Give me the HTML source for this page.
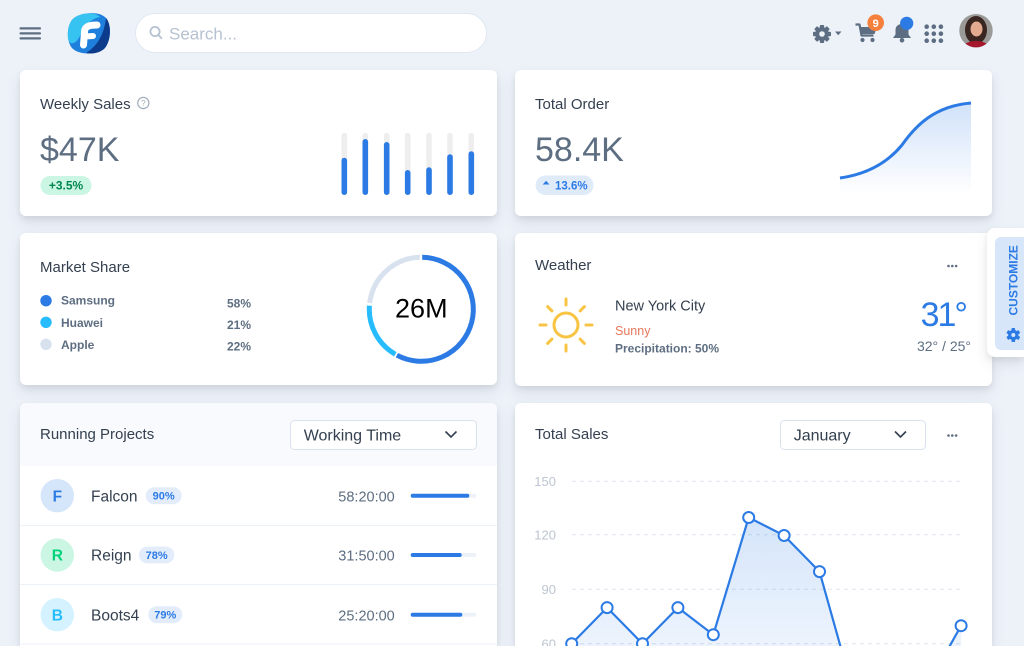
<!DOCTYPE html>
<html><head><meta charset="utf-8">
<style>
html,body{margin:0;padding:0;width:1024px;height:646px;overflow:hidden;}
body{background:#edf2f9;position:relative;font-family:"Liberation Sans",sans-serif;}
.card{position:absolute;background:#fff;border-radius:6px;box-shadow:0 7px 14px 0 rgba(65,69,88,.1),0 3px 6px 0 rgba(0,0,0,.07);overflow:hidden;}
.hdr{position:absolute;left:0;top:0;width:100%;height:63px;background:#f9fafd;}
svg.ov{position:absolute;left:0;top:0;}
</style></head>
<body>
<div class="card" style="left:20px;top:70px;width:477px;height:146px;"></div>
<div class="card" style="left:515px;top:70px;width:477px;height:146px;"></div>
<div class="card" style="left:20px;top:233px;width:477px;height:152px;"></div>
<div class="card" style="left:515px;top:233px;width:477px;height:153px;"></div>
<div class="card" style="left:20px;top:403px;width:477px;height:243px;border-radius:6px 6px 0 0;"><div class="hdr"></div></div>
<div class="card" style="left:515px;top:403px;width:477px;height:243px;border-radius:6px 6px 0 0;"></div>
<div class="card" style="left:987px;top:228px;width:37px;height:129px;border-radius:8px 0 0 8px;"></div>
<div style="position:absolute;left:995px;top:237px;width:29px;height:113px;background:#d8e6f9;border-radius:6px 0 0 6px;"></div>

<svg class="ov" width="1024" height="646" viewBox="0 0 1024 646" font-family="Liberation Sans, sans-serif">
<defs>
<linearGradient id="g1" x1="0" y1="0" x2="0" y2="1">
<stop offset="0" stop-color="#2c7be5" stop-opacity="0.22"/>
<stop offset="1" stop-color="#2c7be5" stop-opacity="0"/>
</linearGradient>
<linearGradient id="g2" gradientUnits="userSpaceOnUse" x1="0" y1="517" x2="0" y2="700">
<stop offset="0" stop-color="#2c7be5" stop-opacity="0.2"/>
<stop offset="1" stop-color="#2c7be5" stop-opacity="0.04"/>
</linearGradient>
<clipPath id="av"><circle cx="976" cy="30.7" r="16.7"/></clipPath>
<clipPath id="chartclip"><rect x="515" y="403" width="477" height="243"/></clipPath>
</defs>

<!-- NAV -->
<g fill="#5e6e82">
<rect x="19.5" y="27.2" width="21.5" height="2.3" rx="1"/>
<rect x="19.5" y="32.2" width="21.5" height="2.3" rx="1"/>
<rect x="19.5" y="37.2" width="21.5" height="2.3" rx="1"/>
</g>
<g transform="translate(66,12)">
<path d="M8 6 C16 0 34 -1 40 6 C46 13 45 30 38 37 C30 43 14 43 7 37 C0 31 0 12 8 6Z" fill="#1e7fdc"/>
<path d="M8 6 C16 0 30 0 34 5 C26 6 18 14 14 24 C10 32 4 34 2 27 C1 18 3 10 8 6Z" fill="#36c3f1"/>
<path d="M40 6 C46 13 45 30 38 37 C32 42 24 42 20 41 C30 35 38 24 40 6Z" fill="#0c3b8c"/>
<path d="M17.5 33 L18.5 20 C18.5 15 22 13 31 13" stroke="#fff" stroke-width="7" fill="none" stroke-linecap="round"/>
<path d="M18.5 24.5 L27 24" stroke="#fff" stroke-width="6" stroke-linecap="round"/>
</g>
<rect x="135.5" y="13.5" width="351" height="39" rx="19.5" fill="#fff" stroke="#e1e8f1"/>
<circle cx="155" cy="31.5" r="4.6" fill="none" stroke="#b6c1d2" stroke-width="1.8"/>
<line x1="158.4" y1="35" x2="161.5" y2="38.2" stroke="#b6c1d2" stroke-width="1.8" stroke-linecap="round"/>
<text x="169" y="39.3" font-size="17" fill="#b6c1d2">Search...</text>

<!-- gear -->
<g transform="translate(822,34)" fill="#5e6e82">
<rect x="-2.2" y="-9" width="4.4" height="18" rx="1"/>
<rect x="-2.2" y="-9" width="4.4" height="18" rx="1" transform="rotate(45)"/>
<rect x="-2.2" y="-9" width="4.4" height="18" rx="1" transform="rotate(90)"/>
<rect x="-2.2" y="-9" width="4.4" height="18" rx="1" transform="rotate(135)"/>
<circle r="6.8"/>
<circle r="2.8" fill="#edf2f9"/>
</g>
<polygon points="835,31.5 841.5,31.5 838.2,35.2" fill="#5e6e82"/>
<!-- cart -->
<g fill="#5e6e82">
<path d="M855.5 24.5 L859.5 24.5 L861.5 35.5 L873.5 35.5" stroke="#5e6e82" stroke-width="2.2" fill="none" stroke-linejoin="round"/>
<polygon points="859.5,27 877,27 874.5,34 861,34"/>
<circle cx="862.5" cy="40" r="2.1"/>
<circle cx="872.5" cy="40" r="2.1"/>
</g>
<circle cx="875.7" cy="22.7" r="8.3" fill="#f5803e"/>
<text x="875.7" y="26.8" font-size="11" font-weight="bold" fill="#fff" text-anchor="middle">9</text>
<!-- bell -->
<g fill="#5e6e82">
<path d="M893 38 L911 38 L908.5 34.5 L908.5 30 C908.5 26 905.5 24 902 24 C898.5 24 895.5 26 895.5 30 L895.5 34.5 Z"/>
<circle cx="902" cy="40.3" r="2.3"/>
</g>
<circle cx="906.7" cy="23.3" r="6.6" fill="#2c7be5"/>
<!-- grid -->
<g fill="#5e6e82">
<circle cx="926.7" cy="26.7" r="2.3"/><circle cx="933.8" cy="26.7" r="2.3"/><circle cx="940.9" cy="26.7" r="2.3"/>
<circle cx="926.7" cy="33.7" r="2.3"/><circle cx="933.8" cy="33.7" r="2.3"/><circle cx="940.9" cy="33.7" r="2.3"/>
<circle cx="926.7" cy="40.7" r="2.3"/><circle cx="933.8" cy="40.7" r="2.3"/><circle cx="940.9" cy="40.7" r="2.3"/>
</g>
<!-- avatar -->
<g clip-path="url(#av)">
<rect x="958" y="13" width="36" height="36" fill="#9a9a98"/>
<ellipse cx="976" cy="30" rx="11" ry="14" fill="#3a2621"/>
<ellipse cx="976.5" cy="29" rx="6" ry="7.5" fill="#e2ab90"/>
<ellipse cx="976" cy="50" rx="15" ry="9" fill="#a5172c"/>
</g>

<!-- WEEKLY SALES -->
<text x="40" y="109" font-size="15" fill="#344050">Weekly Sales</text>
<circle cx="143.3" cy="103" r="5.6" fill="none" stroke="#a3aebd" stroke-width="1.2"/>
<text x="143.3" y="106" font-size="8" fill="#a3aebd" text-anchor="middle">?</text>
<text x="40" y="161" font-size="34" fill="#5e6e82">$47K</text>
<rect x="40.5" y="176" width="51" height="19" rx="9.5" fill="#ccf6e4"/>
<text x="66" y="189.6" font-size="12" font-weight="bold" fill="#00864e" text-anchor="middle">+3.5%</text>
<g>
<rect x="341.5" y="132.7" width="5.6" height="62.3" rx="2.8" fill="#eeeeee"/>
<rect x="362.5" y="132.7" width="5.6" height="62.3" rx="2.8" fill="#eeeeee"/>
<rect x="383.9" y="132.7" width="5.6" height="62.3" rx="2.8" fill="#eeeeee"/>
<rect x="404.9" y="132.7" width="5.6" height="62.3" rx="2.8" fill="#eeeeee"/>
<rect x="426.2" y="132.7" width="5.6" height="62.3" rx="2.8" fill="#eeeeee"/>
<rect x="447.2" y="132.7" width="5.6" height="62.3" rx="2.8" fill="#eeeeee"/>
<rect x="468.5" y="132.7" width="5.6" height="62.3" rx="2.8" fill="#eeeeee"/>
</g>
<g fill="#2c7be5">
<rect x="341.5" y="157.7" width="5.6" height="37.3" rx="2.8"/>
<rect x="362.5" y="139" width="5.6" height="56" rx="2.8"/>
<rect x="383.9" y="142" width="5.6" height="53" rx="2.8"/>
<rect x="404.9" y="170" width="5.6" height="25" rx="2.8"/>
<rect x="426.2" y="167.3" width="5.6" height="27.7" rx="2.8"/>
<rect x="447.2" y="154.3" width="5.6" height="40.7" rx="2.8"/>
<rect x="468.5" y="151.3" width="5.6" height="43.7" rx="2.8"/>
</g>

<!-- TOTAL ORDER -->
<text x="535" y="109" font-size="15" fill="#344050">Total Order</text>
<text x="535" y="161" font-size="34" fill="#5e6e82">58.4K</text>
<rect x="535.5" y="175.5" width="58" height="19.5" rx="9.75" fill="#e0ebfa"/>
<polygon points="542.7,184.5 549.5,184.5 546.1,180.8" fill="#2c7be5"/>
<text x="555" y="189.5" font-size="11.5" font-weight="bold" fill="#2c7be5">13.6%</text>
<path d="M840 178 C868 174 888 162 902 145 C916 125 935 106 971 103 L971 195 L840 195 Z" fill="url(#g1)"/>
<path d="M840 178 C868 174 888 162 902 145 C916 125 935 106 971 103" fill="none" stroke="#2c7be5" stroke-width="3"/>

<!-- MARKET SHARE -->
<text x="40" y="272" font-size="15" fill="#344050">Market Share</text>
<circle cx="46" cy="300.7" r="5.7" fill="#2c7be5"/>
<circle cx="46" cy="322.3" r="5.7" fill="#27bcfd"/>
<circle cx="46" cy="344.3" r="5.7" fill="#d8e2ef"/>
<g font-size="12" font-weight="bold" fill="#5e6e82">
<text x="61" y="304.7">Samsung</text>
<text x="61" y="327">Huawei</text>
<text x="61" y="349">Apple</text>
<text x="227" y="307.3">58%</text>
<text x="227" y="329">21%</text>
<text x="227" y="350.3">22%</text>
</g>
<g fill="none" stroke-width="5">
<path d="M422.2 257.3 A52 52 0 1 1 396.9 355.2" stroke="#2c7be5"/>
<path d="M395.3 354.3 A52 52 0 0 1 369.4 305.7" stroke="#27bcfd"/>
<path d="M369.7 303 A52 52 0 0 1 419.9 257.3" stroke="#d8e2ef"/>
</g>
<text x="421.3" y="317.3" font-size="27" fill="#000" text-anchor="middle">26M</text>

<!-- WEATHER -->
<text x="535" y="270" font-size="15" fill="#344050">Weather</text>
<g fill="#5e6e82"><circle cx="948.5" cy="266" r="1.3"/><circle cx="952.3" cy="266" r="1.3"/><circle cx="956.1" cy="266" r="1.3"/></g>
<g stroke="#f7c444" stroke-width="3" stroke-linecap="round" fill="none">
<circle cx="566" cy="325" r="12"/>
<line x1="566" y1="305" x2="566" y2="299"/>
<line x1="566" y1="345" x2="566" y2="351"/>
<line x1="546" y1="325" x2="540" y2="325"/>
<line x1="586" y1="325" x2="592" y2="325"/>
<line x1="580.1" y1="310.9" x2="584.4" y2="306.6"/>
<line x1="551.9" y1="310.9" x2="547.6" y2="306.6"/>
<line x1="580.1" y1="339.1" x2="584.4" y2="343.4"/>
<line x1="551.9" y1="339.1" x2="547.6" y2="343.4"/>
</g>
<text x="615" y="310.7" font-size="14.5" fill="#344050">New York City</text>
<text x="615" y="335" font-size="12.5" fill="#e6795a">Sunny</text>
<text x="615" y="352.7" font-size="12" font-weight="bold" fill="#5e6e82">Precipitation: 50%</text>
<text x="966" y="326" font-size="34" fill="#2c7be5" text-anchor="end" letter-spacing="-2">31°</text>
<text x="971" y="351" font-size="14" fill="#5e6e82" text-anchor="end">32° / 25°</text>

<!-- CUSTOMIZE -->
<text transform="translate(1017.6,280.3) rotate(-90)" font-size="12" font-weight="bold" fill="#2c7be5" text-anchor="middle">CUSTOMIZE</text>
<g transform="translate(1013.3,335)" fill="#2c7be5">
<rect x="-1.8" y="-7" width="3.6" height="14" rx="0.8"/>
<rect x="-1.8" y="-7" width="3.6" height="14" rx="0.8" transform="rotate(60)"/>
<rect x="-1.8" y="-7" width="3.6" height="14" rx="0.8" transform="rotate(120)"/>
<circle r="5.2"/>
<circle r="2" fill="#d8e6f9"/>
</g>

<!-- RUNNING PROJECTS -->
<text x="40" y="439" font-size="15" fill="#344050">Running Projects</text>
<rect x="290.5" y="420.5" width="186" height="29" rx="4" fill="#fff" stroke="#d8e2ef"/>
<text x="303.7" y="440.3" font-size="16" fill="#344050">Working Time</text>
<polyline points="445.5,431.5 451,437 456.5,431.5" fill="none" stroke="#344050" stroke-width="1.6"/>
<g stroke="#edf2f9" stroke-width="1">
<line x1="20" y1="525.5" x2="497" y2="525.5"/>
<line x1="20" y1="584.5" x2="497" y2="584.5"/>
<line x1="20" y1="644" x2="497" y2="644"/>
</g>
<circle cx="57.3" cy="495.7" r="16.7" fill="#d5e5fa"/>
<circle cx="57.3" cy="555" r="16.7" fill="#ccf6e4"/>
<circle cx="57.3" cy="614.7" r="16.7" fill="#d4f2ff"/>
<g font-size="15.5" font-weight="bold" text-anchor="middle">
<text x="57.3" y="501.3" fill="#2c7be5">F</text>
<text x="57.3" y="560.6" fill="#00d27a">R</text>
<text x="57.3" y="620.3" fill="#27bcfd">B</text>
</g>
<g font-size="15.5" fill="#344050">
<text x="91" y="501.3">Falcon</text>
<text x="91" y="560.6">Reign</text>
<text x="91" y="620.3">Boots4</text>
</g>
<rect x="145.7" y="487.3" width="36" height="16.8" rx="8.4" fill="#e3ecfb"/>
<rect x="139" y="546.6" width="35.3" height="16.8" rx="8.4" fill="#e3ecfb"/>
<rect x="148.3" y="606.3" width="34" height="16.8" rx="8.4" fill="#e3ecfb"/>
<g font-size="11" font-weight="bold" fill="#2c7be5" text-anchor="middle">
<text x="163.7" y="499.7">90%</text>
<text x="156.7" y="559">78%</text>
<text x="165.3" y="618.7">79%</text>
</g>
<g font-size="14.5" fill="#5e6e82">
<text x="338.3" y="501.3">58:20:00</text>
<text x="338.3" y="560.6">31:50:00</text>
<text x="338.3" y="620.3">25:20:00</text>
</g>
<rect x="410.7" y="493.7" width="65.6" height="4" rx="2" fill="#edf2f9"/>
<rect x="410.7" y="493.7" width="58.6" height="4" rx="2" fill="#2c7be5"/>
<rect x="410.7" y="553" width="65.6" height="4" rx="2" fill="#edf2f9"/>
<rect x="410.7" y="553" width="51" height="4" rx="2" fill="#2c7be5"/>
<rect x="410.7" y="612.7" width="65.6" height="4" rx="2" fill="#edf2f9"/>
<rect x="410.7" y="612.7" width="51.6" height="4" rx="2" fill="#2c7be5"/>

<!-- TOTAL SALES -->
<text x="535" y="439" font-size="15" fill="#344050">Total Sales</text>
<rect x="780.5" y="420.5" width="145" height="29" rx="4" fill="#fff" stroke="#d8e2ef"/>
<text x="793.7" y="440.3" font-size="16" fill="#344050">January</text>
<polyline points="895,431.5 900.5,437 906,431.5" fill="none" stroke="#344050" stroke-width="1.6"/>
<g fill="#5e6e82"><circle cx="948.5" cy="435.5" r="1.3"/><circle cx="952.3" cy="435.5" r="1.3"/><circle cx="956.1" cy="435.5" r="1.3"/></g>
<g font-size="13" fill="#bcc5d1" text-anchor="end">
<text x="556" y="486">150</text>
<text x="556" y="539.3">120</text>
<text x="556" y="594">90</text>
<text x="556" y="648.3">60</text>
</g>
<g stroke="#dde4ee" stroke-width="1" stroke-dasharray="4 4">
<line x1="572" y1="481.3" x2="960" y2="481.3"/>
<line x1="572" y1="534.7" x2="960" y2="534.7"/>
<line x1="572" y1="589.3" x2="960" y2="589.3"/>
<line x1="572" y1="643.7" x2="960" y2="643.7"/>
</g>
<g clip-path="url(#chartclip)">
<path d="M571.7 643.7 L607.1 607.6 L642.5 643.7 L677.9 607.6 L713.3 634.7 L748.7 517.5 L784.1 535.5 L819.5 571.6 L854.9 697.8 L890.3 720 L925.7 688.8 L961.1 625.7 L961.1 760 L571.7 760 Z" fill="url(#g2)"/>
<polyline points="571.7,643.7 607.1,607.6 642.5,643.7 677.9,607.6 713.3,634.7 748.7,517.5 784.1,535.5 819.5,571.6 854.9,697.8 890.3,720 925.7,688.8 961.1,625.7" fill="none" stroke="#2c7be5" stroke-width="2.2" stroke-linejoin="round"/>
<g fill="#fff" stroke="#2c7be5" stroke-width="2">
<circle cx="571.7" cy="643.7" r="5.5"/>
<circle cx="607.1" cy="607.6" r="5.5"/>
<circle cx="642.5" cy="643.7" r="5.5"/>
<circle cx="677.9" cy="607.6" r="5.5"/>
<circle cx="713.3" cy="634.7" r="5.5"/>
<circle cx="748.7" cy="517.5" r="5.5"/>
<circle cx="784.1" cy="535.5" r="5.5"/>
<circle cx="819.5" cy="571.6" r="5.5"/>
<circle cx="961.1" cy="625.7" r="5.5"/>
</g>
</g>
</svg>
</body></html>
